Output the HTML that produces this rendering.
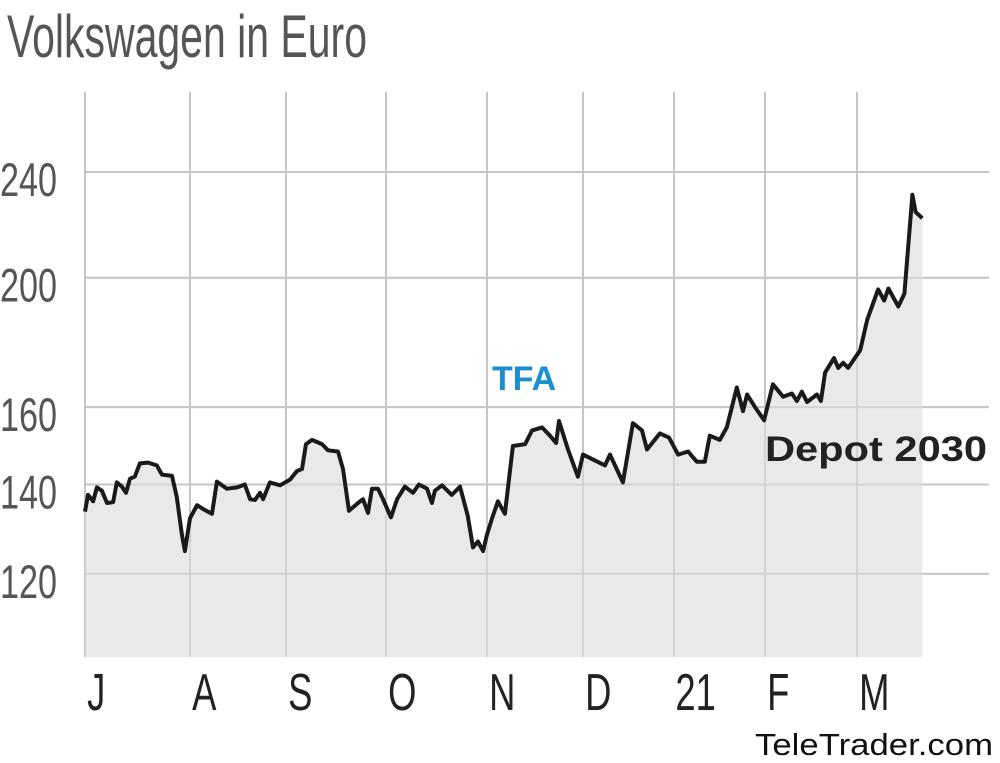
<!DOCTYPE html>
<html><head><meta charset="utf-8"><style>
html,body{margin:0;padding:0;background:#fff;}
svg{display:block;}
text{font-family:"Liberation Sans Narrow","Liberation Sans",sans-serif;}
</style></head><body>
<svg id="chart" width="1000" height="763" viewBox="0 0 1000 763" xmlns="http://www.w3.org/2000/svg">
<text x="7" y="57" font-size="60" fill="#555" textLength="360" lengthAdjust="spacingAndGlyphs">Volkswagen in Euro</text>
<g id="grid"></g>
<path id="area" fill="#e9e9eb"></path>
<g id="grid2"></g>
<path id="line" fill="none" stroke="#1a1a1a" stroke-width="4" stroke-linejoin="round"></path>
<g id="labels"></g>
<text x="492" y="390" font-size="34" font-weight="bold" fill="#1a8fcf" style="font-family:'Liberation Sans',sans-serif">TFA</text>
<text x="765" y="461" font-size="35" font-weight="bold" fill="#222" style="font-family:'Liberation Sans',sans-serif" textLength="222" lengthAdjust="spacingAndGlyphs">Depot 2030</text>
<text x="755" y="755" font-size="31" fill="#111" style="font-family:'Liberation Sans',sans-serif" textLength="238" lengthAdjust="spacingAndGlyphs">TeleTrader.com</text>
</svg>
<script>
// days since 1 July 2020
const days = [0,0.9,2.4,3.5,5.0,6.5,8.3,9.4,10.9,12.1,13.3,14.7,16.2,18.6,21.2,22.7,25.7,27.1,28.6,29.5,31,33.3,35.5,38.1,39.7,42.9,46.2,48.7,50.4,52,53.6,54.6,56.8,60.1,63.2,65.3,66.8,68,69.8,72.8,74.6,77.6,79.1,80.9,83.6,85.1,86.6,87.8,89.6,91.1,93.5,95.4,97.8,100.3,102.1,104.6,106.1,107.0,109.2,112.2,114.7,117.1,118.7,120.2,121.8,123,124.6,126.4,128.6,131.1,134.9,137.1,140.2,142.7,144.6,145.5,148.3,151.4,153,160.5,162.2,166.6,170,173.1,174.8,179.2,182.3,185.4,188.8,191.8,194.5,196.2,199.6,202,205.4,207.5,208.9,211.6,214.7,217.4,220.5,223.2,224.7,226.2,227.8,230.8,232,233.3,236,237.3,238.8,240.3,244,246.2,249.6,251.5,252.8,255.9,257.8,260.3,261.3,263.4];
const prices = [133.6,137.5,136.0,139.3,138.5,135.6,135.8,140.5,139.5,138.0,141.4,141.9,145.2,145.4,144.7,142.4,142.1,137.0,128.4,124.8,132.1,135.1,134.1,133.1,140.7,139.0,139.3,140,136.5,136.3,138.0,136.5,140.5,139.8,141.2,143.3,143.8,150.1,151.2,150.1,148.5,148.2,143.8,133.8,135.6,136.5,133.3,139.0,139.0,136.5,132.3,136.5,139.5,138.0,140,139.0,135.6,138.5,139.8,137.5,139.5,132.6,125.6,126.9,124.8,128.4,132.1,136.0,133.1,149.6,150.1,153.7,154.5,152.3,150.4,156.2,148.7,141.9,147.4,144.7,147.4,140.5,155.6,153.7,148.7,152.9,151.8,147.4,148.2,145.6,145.6,152.3,151.2,154.5,165.5,158.9,163.5,160,156.4,166.4,162.9,163.8,161.7,164.3,161.4,163.5,161.7,169.8,174.1,171.2,172.7,171.2,176.5,186.0,196.0,192.3,196.3,190.3,194.6,230.8,224.0,221.6];
const yTicks = [120,140,160,200,240];
const monthLabels = ["J","A","S","O","N","D","21","F","M"];
const monthDays = [0,31,62,92,123,153,184,215,243];

const NS="http://www.w3.org/2000/svg";
const monthPx=[85,190,286,386,487,583,674,765,857];
const plotTop=92,plotBottom=657,plotRight=989;
function xs(d){
  for(let i=0;i<monthDays.length-1;i++){
    if(d<=monthDays[i+1]) return monthPx[i]+(d-monthDays[i])/(monthDays[i+1]-monthDays[i])*(monthPx[i+1]-monthPx[i]);
  }
  return monthPx[8]+(d-monthDays[8])*3.2;
}
function ys(v){return 172+1335*Math.log10(240/v);}

const grid=document.getElementById('grid');
yTicks.forEach(t=>{
  const l=document.createElementNS(NS,'line');
  
  
  l.setAttribute('x1',85);l.setAttribute('x2',plotRight);
  l.setAttribute('y1',ys(t));l.setAttribute('y2',ys(t));
  l.setAttribute('stroke','#c6c6c6');l.setAttribute('stroke-width','2');
  grid.appendChild(l);
});
monthDays.forEach(d=>{
  const l=document.createElementNS(NS,'line');
  
  
  l.setAttribute('x1',xs(d));l.setAttribute('x2',xs(d));
  l.setAttribute('y1',plotTop);l.setAttribute('y2',plotBottom);
  l.setAttribute('stroke','#c6c6c6');l.setAttribute('stroke-width','2');
  grid.appendChild(l);
});

let dpath='';
days.forEach((d,i)=>{dpath+=(i?'L':'M')+xs(d).toFixed(1)+','+ys(prices[i]).toFixed(1);});
document.getElementById('line').setAttribute('d',dpath);
const lastX=xs(days[days.length-1]).toFixed(1);
document.getElementById('area').setAttribute('d',dpath+'L'+lastX+','+plotBottom+'L'+xs(days[0]).toFixed(1)+','+plotBottom+'Z');

const grid2=document.getElementById('grid2');
grid2.innerHTML=grid.innerHTML;
grid2.setAttribute('opacity','0.6');

const labels=document.getElementById('labels');
yTicks.forEach(t=>{
  const tx=document.createElementNS(NS,'text');
  
  
  tx.setAttribute('x',0);tx.setAttribute('y',ys(t)+24);
  tx.setAttribute('font-size','47');tx.setAttribute('fill','#555');
  tx.setAttribute('textLength','57');tx.setAttribute('lengthAdjust','spacingAndGlyphs');
  tx.textContent=t;
  labels.appendChild(tx);
});
monthLabels.forEach((m,i)=>{
  const tx=document.createElementNS(NS,'text');
  
  
  tx.setAttribute('x',xs(monthDays[i])+(m.length>1?2:3));tx.setAttribute('y',710);
  tx.setAttribute('font-size','52');tx.setAttribute('fill','#222');
  tx.setAttribute('transform','translate('+(xs(monthDays[i])*0.3)+',0) scale(0.7,1)');
  tx.textContent=m;
  labels.appendChild(tx);
});
</script>
</body></html>
